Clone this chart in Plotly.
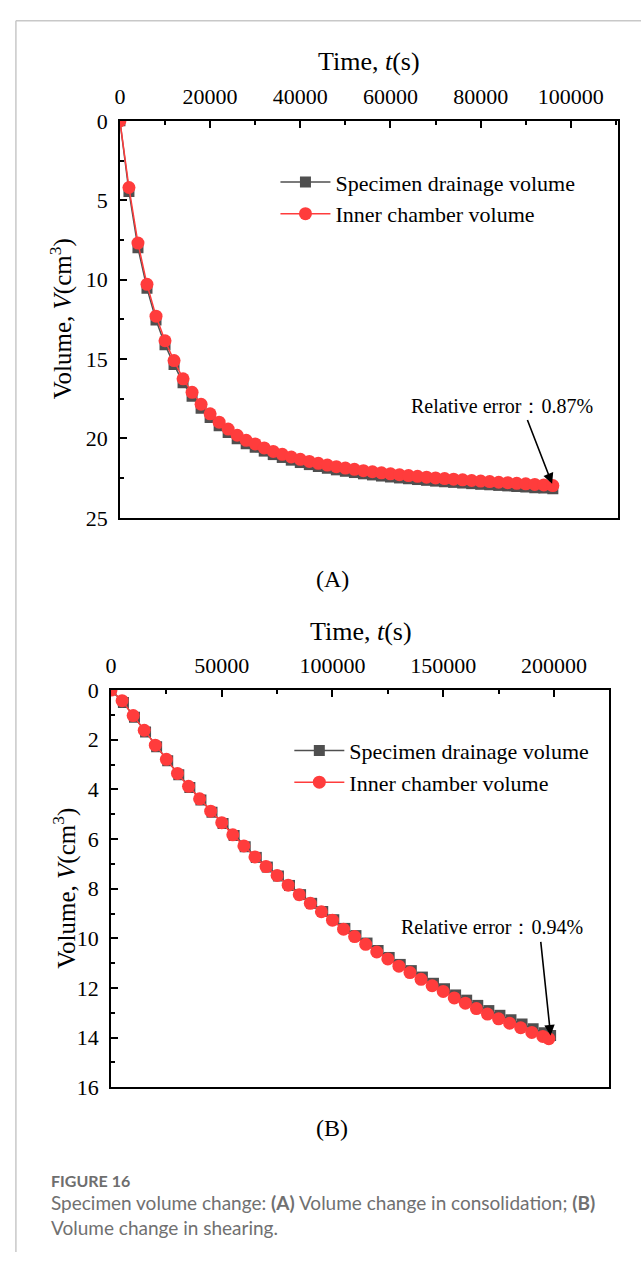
import plotly.graph_objects as go

# ---------------- data ----------------
# (A) consolidation
t_a = [0, 2000, 4000, 6000, 8000, 10000, 12000, 14000, 16000, 18000, 20000,
       22000, 24000, 26000, 28000, 30000, 32000, 34000, 36000, 38000, 40000,
       42000, 44000, 46000, 48000, 50000, 52000, 54000, 56000, 58000, 60000,
       62000, 64000, 66000, 68000, 70000, 72000, 74000, 76000, 78000, 80000,
       82000, 84000, 86000, 88000, 90000, 92000, 94000, 96000]
drain_a = [0, 4.45, 8.0, 10.55, 12.55, 14.1, 15.35, 16.5, 17.35, 18.1, 18.68,
           19.2, 19.63, 20.02, 20.33, 20.56, 20.8, 21.02, 21.2, 21.37, 21.52,
           21.65, 21.77, 21.88, 21.98, 22.07, 22.15, 22.23, 22.3, 22.37, 22.43,
           22.49, 22.54, 22.59, 22.64, 22.69, 22.73, 22.77, 22.81, 22.85, 22.89,
           22.92, 22.96, 22.99, 23.03, 23.06, 23.1, 23.13, 23.17]
inner_a = [0, 4.2, 7.7, 10.3, 12.3, 13.85, 15.1, 16.25, 17.1, 17.85, 18.45,
           18.98, 19.41, 19.8, 20.12, 20.35, 20.6, 20.82, 21.0, 21.17, 21.32,
           21.45, 21.57, 21.68, 21.78, 21.87, 21.95, 22.03, 22.1, 22.17, 22.23,
           22.29, 22.34, 22.39, 22.44, 22.49, 22.53, 22.57, 22.61, 22.65, 22.69,
           22.72, 22.76, 22.79, 22.83, 22.86, 22.9, 22.93, 22.97]

# (B) shearing
t_b_inner = [0, 5000, 10000, 15000, 20000, 25000, 30000, 35000, 40000, 45000,
             50000, 55000, 60000, 65000, 70000, 75000, 80000, 85000, 90000,
             95000, 100000, 105000, 110000, 115000, 120000, 125000, 130000,
             135000, 140000, 145000, 150000, 155000, 160000, 165000, 170000,
             175000, 180000, 185000, 190000, 195000, 197700]
inner_b = [0, 0.43, 1.03, 1.62, 2.22, 2.79, 3.36, 3.88, 4.38, 4.88, 5.34, 5.83,
           6.28, 6.72, 7.11, 7.47, 7.86, 8.24, 8.59, 8.93, 9.27, 9.63, 9.93,
           10.24, 10.55, 10.83, 11.12, 11.38, 11.65, 11.91, 12.14, 12.40, 12.61,
           12.83, 13.05, 13.24, 13.42, 13.60, 13.79, 13.95, 14.04]
t_b_drain = [0, 5600, 10600, 15600, 20600, 25600, 30600, 35600, 40600, 45600,
             50600, 55600, 60600, 65600, 70600, 75600, 80600, 85600, 90600,
             95600, 100600, 105600, 110600, 115600, 120600, 125600, 130600,
             135600, 140600, 145600, 150600, 155600, 160600, 165600, 170600,
             175600, 180600, 185600, 190600, 195600, 198500]
drain_b = [0, 0.5, 1.1, 1.69, 2.28, 2.85, 3.41, 3.93, 4.43, 4.92, 5.38, 5.86,
           6.31, 6.74, 7.13, 7.49, 7.87, 8.24, 8.59, 8.92, 9.25, 9.6, 9.89,
           10.19, 10.49, 10.77, 11.05, 11.3, 11.56, 11.81, 12.03, 12.28, 12.49,
           12.7, 12.91, 13.1, 13.28, 13.45, 13.64, 13.8, 13.91]

series_names = ["Specimen drainage volume", "Inner chamber volume"]
x_ticks_a = [0, 20000, 40000, 60000, 80000, 100000]
y_ticks_a = [0, 5, 10, 15, 20, 25]
x_ticks_b = [0, 50000, 100000, 150000, 200000]
y_ticks_b = [0, 2, 4, 6, 8, 10, 12, 14, 16]

# ---------------- layout helpers ----------------
W, H = 641, 1265
def px(x):
    return x / W
def py(y):
    return 1 - y / H

SERIF = "Liberation Serif, Times New Roman, serif"
BLACK_C = "#4f4f4f"
RED_C = "#ff3c3c"

fig = go.Figure()

def add_pair(t_d, v_d, t_i, v_i, xa, ya, leg):
    fig.add_trace(go.Scatter(
        x=t_d, y=v_d, mode="lines+markers", name=series_names[0],
        line=dict(color=BLACK_C, width=1.5),
        marker=dict(symbol="square", size=11, color=BLACK_C),
        xaxis=xa, yaxis=ya, legend=leg))
    fig.add_trace(go.Scatter(
        x=t_i, y=v_i, mode="lines+markers", name=series_names[1],
        line=dict(color=RED_C, width=1.5),
        marker=dict(symbol="circle", size=13, color=RED_C),
        xaxis=xa, yaxis=ya, legend=leg))

add_pair(t_a, drain_a, t_a, inner_a, "x", "y", "legend")
add_pair(t_b_drain, drain_b, t_b_inner, inner_b, "x2", "y2", "legend2")

tickfont = dict(family=SERIF, size=22, color="black")

def xax(domain, rng, ticks, minor, anchor):
    return dict(domain=domain, range=rng, side="top", anchor=anchor,
                tickvals=ticks, tickformat="d", exponentformat="none",
                ticks="inside", ticklen=7, tickwidth=1.5, tickcolor="black",
                minor=dict(dtick=minor, ticks="inside", ticklen=4,
                           tickwidth=1.5, tickcolor="black"),
                showline=True, linecolor="black", linewidth=1.5, mirror=True,
                showgrid=False, zeroline=False, tickfont=tickfont,
                ticklabelstandoff=6)

def yax(domain, rng, ticks, minor, anchor):
    return dict(domain=domain, range=rng, anchor=anchor,
                tickvals=ticks, tickformat="d",
                ticks="inside", ticklen=7, tickwidth=1.5, tickcolor="black",
                minor=dict(dtick=minor, ticks="inside", ticklen=4,
                           tickwidth=1.5, tickcolor="black"),
                showline=True, linecolor="black", linewidth=1.5, mirror=True,
                showgrid=False, zeroline=False, tickfont=tickfont,
                ticklabelstandoff=6)

fig.update_layout(
    width=W, height=H,
    margin=dict(l=0, r=0, t=0, b=0),
    paper_bgcolor="white", plot_bgcolor="white",
    xaxis=xax([px(115), px(618)], [0, 110500], x_ticks_a, 10000, "y"),
    yaxis=yax([py(516), py(111)], [25, 0], y_ticks_a, 2.5, "x"),
    xaxis2=xax([px(106), px(609)], [0, 225000], x_ticks_b, 25000, "y2"),
    yaxis2=yax([py(1097), py(691.7)], [16, 0], y_ticks_b, 1, "x2"),
    legend=dict(x=px(272), y=py(190), xanchor="left", yanchor="middle",
                bgcolor="rgba(0,0,0,0)", borderwidth=0, itemwidth=50,
                font=dict(family=SERIF, size=22, color="black")),
    legend2=dict(x=px(286), y=py(770), xanchor="left", yanchor="middle",
                 bgcolor="rgba(0,0,0,0)", borderwidth=0, itemwidth=50,
                 font=dict(family=SERIF, size=22, color="black")),
)

ann = []
def text(x, y, s, size, **kw):
    d = dict(x=px(x), y=py(y), xref="paper", yref="paper", text=s,
             showarrow=False, xanchor=kw.pop("xanchor", "center"),
             yanchor=kw.pop("yanchor", "middle"),
             font=dict(family=kw.pop("family", SERIF), size=size,
                       color=kw.pop("color", "black")))
    d.update(kw)
    ann.append(d)

# axis titles
text(366, 50, "Time, <i>t</i>(s)", 26)
text(56, 313, "Volume, <i>V</i>(cm<sup>3</sup>)", 25, textangle=-90)
text(358, 632, "Time, <i>t</i>(s)", 26)
text(59, 894, "Volume, <i>V</i>(cm<sup>3</sup>)", 25, textangle=-90)

# panel labels
text(330, 578, "(A)", 24)
text(329, 1138, "(B)", 24)

# relative error notes
text(501, 402, "Relative error：0.87%", 20)
text(491, 933, "Relative error：0.94%", 20)

ann.append(dict(x=t_a[-1], y=inner_a[-1], xref="x", yref="y", text="",
                showarrow=True, ax=-26, ay=-67, arrowhead=2, arrowsize=1.3,
                arrowwidth=1.6, arrowcolor="black", standoff=2))
ann.append(dict(x=t_b_drain[-1], y=drain_b[-1], xref="x2", yref="y2", text="",
                showarrow=True, ax=-10, ay=-95, arrowhead=2, arrowsize=1.3,
                arrowwidth=1.6, arrowcolor="black", standoff=0))

# caption
SANS = "Lato, Open Sans, sans-serif"
text(43, 1192, "<b>FIGURE 16</b>", 16, xanchor="left", family=SANS, color="#6e6e6e")
text(43, 1214, "Specimen volume change: <b>(A)</b> Volume change in consolidation; <b>(B)</b>",
     19, xanchor="left", family=SANS, color="#707070")
text(43, 1240, "Volume change in shearing.", 19, xanchor="left", family=SANS, color="#707070")

fig.update_layout(annotations=ann)

# page frame
fig.update_layout(shapes=[
    dict(type="line", xref="paper", yref="paper", x0=px(10), x1=px(10),
         y0=py(9), y1=0, line=dict(color="#c8c8c8", width=1.5)),
    dict(type="line", xref="paper", yref="paper", x0=px(10), x1=1,
         y0=py(9), y1=py(9), line=dict(color="#c8c8c8", width=1.5)),
])

fig.write_html(
    "out.html",
    config={"displayModeBar": False},
    post_script=("document.documentElement.style.margin='0';"
                 "document.body.style.margin='0';"
                 "document.documentElement.style.overflow='hidden';"
                 "document.body.style.overflow='hidden';"),
)
